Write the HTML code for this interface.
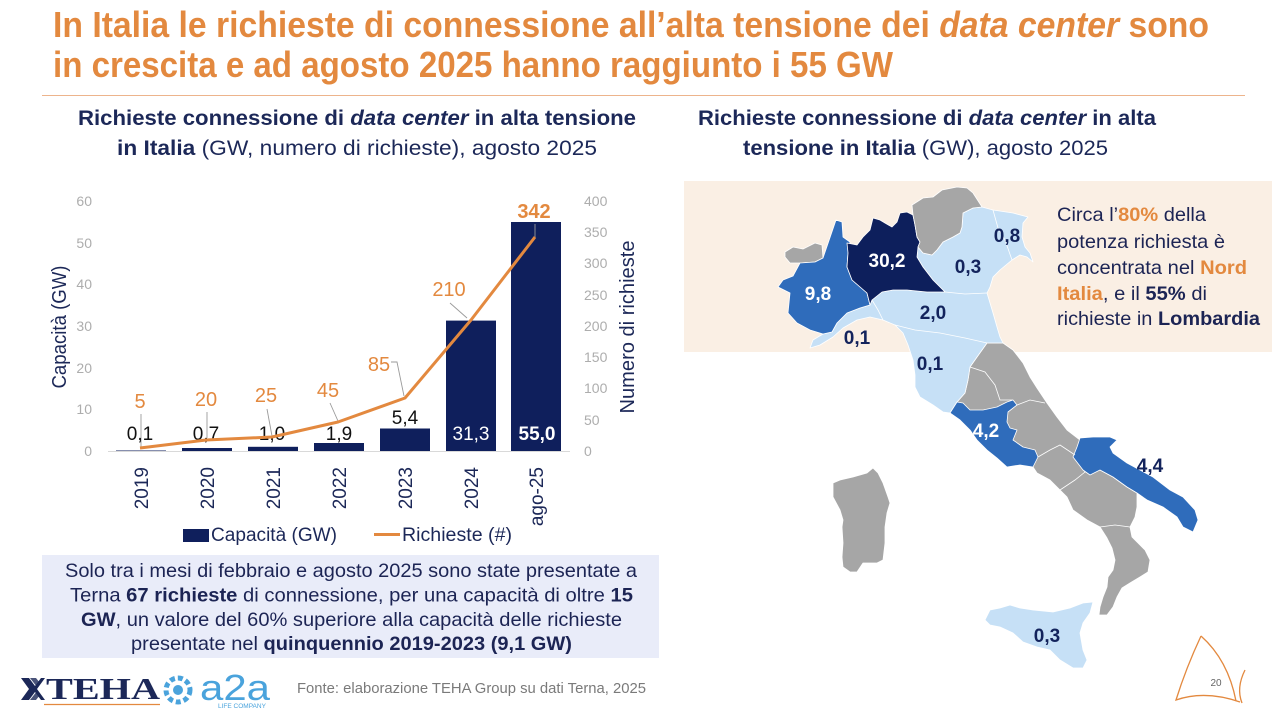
<!DOCTYPE html>
<html><head><meta charset="utf-8"><style>
html,body{margin:0;padding:0;background:#fff;}
svg{display:block;font-family:"Liberation Sans",sans-serif;}
</style></head><body>
<svg width="1280" height="720" viewBox="0 0 1280 720" xmlns="http://www.w3.org/2000/svg">
<rect width="1280" height="720" fill="#fff"/>
<!-- Title -->
<g fill="#E3893F" font-weight="bold" font-size="36">
<text x="53" y="37" textLength="1156" lengthAdjust="spacingAndGlyphs">In Italia le richieste di connessione all’alta tensione dei <tspan font-style="italic">data center</tspan> sono</text>
<text x="53" y="77" textLength="840" lengthAdjust="spacingAndGlyphs">in crescita e ad agosto 2025 hanno raggiunto i 55 GW</text>
</g>
<line x1="42" y1="95.5" x2="1245" y2="95.5" stroke="#EDB48C" stroke-width="1"/>
<!-- Subtitles -->
<g fill="#1C2858" font-size="21">
<text x="78" y="125" textLength="558" lengthAdjust="spacingAndGlyphs" font-weight="bold">Richieste connessione di <tspan font-style="italic">data center</tspan> in alta tensione</text>
<text x="117" y="155" textLength="480" lengthAdjust="spacingAndGlyphs"><tspan font-weight="bold">in Italia</tspan>  (GW, numero di richieste), agosto 2025</text>
<text x="698" y="125" textLength="458" lengthAdjust="spacingAndGlyphs" font-weight="bold">Richieste connessione di <tspan font-style="italic">data center</tspan> in alta</text>
<text x="743" y="155" textLength="365" lengthAdjust="spacingAndGlyphs"><tspan font-weight="bold">tensione in Italia</tspan> (GW), agosto 2025</text>
</g>
<!-- Chart axes -->
<g font-size="14" fill="#ADADAD">
<text x="92" y="206" text-anchor="end">60</text>
<text x="92" y="248" text-anchor="end">50</text>
<text x="92" y="289" text-anchor="end">40</text>
<text x="92" y="331" text-anchor="end">30</text>
<text x="92" y="373" text-anchor="end">20</text>
<text x="92" y="414" text-anchor="end">10</text>
<text x="92" y="456" text-anchor="end">0</text>
<text x="584" y="206">400</text>
<text x="584" y="237">350</text>
<text x="584" y="268">300</text>
<text x="584" y="300">250</text>
<text x="584" y="331">200</text>
<text x="584" y="362">150</text>
<text x="584" y="393">100</text>
<text x="584" y="425">50</text>
<text x="584" y="456">0</text>
</g>
<line x1="108" y1="451.5" x2="570" y2="451.5" stroke="#D9D9D9" stroke-width="1"/>
<g fill="#1C2858" font-size="20">
<text transform="translate(66,327) rotate(-90)" text-anchor="middle" textLength="123" lengthAdjust="spacingAndGlyphs">Capacità (GW)</text>
<text transform="translate(634,327) rotate(-90)" text-anchor="middle" textLength="173" lengthAdjust="spacingAndGlyphs">Numero di richieste</text>
</g>
<!-- Bars -->
<g fill="#0F1F5C">
<rect x="116" y="450.5" width="50" height="0.5"/>
<rect x="182" y="448" width="50" height="3"/>
<rect x="248" y="446.8" width="50" height="4.2"/>
<rect x="314" y="443" width="50" height="8"/>
<rect x="380" y="428.5" width="50" height="22.5"/>
<rect x="446" y="320.6" width="50" height="130.4"/>
<rect x="511" y="222" width="50" height="229"/>
</g>
<!-- leader lines -->
<g stroke="#9A9A9A" stroke-width="0.9" fill="none">
<line x1="141" y1="414" x2="141" y2="447"/>
<line x1="207" y1="412" x2="207" y2="438"/>
<line x1="267" y1="409" x2="272" y2="436"/>
<line x1="330" y1="403" x2="338" y2="421"/>
<polyline points="391,362 397,362 404,396"/>
<line x1="450" y1="303" x2="467" y2="318"/>
<line x1="535" y1="224" x2="535" y2="237"/>
</g>
<!-- data labels -->
<g font-size="19" text-anchor="middle">
<text x="140" y="440" fill="#111">0,1</text>
<text x="206" y="440" fill="#111">0,7</text>
<text x="272" y="440" fill="#111">1,0</text>
<text x="339" y="440" fill="#111">1,9</text>
<text x="405" y="424" fill="#111">5,4</text>
<text x="471" y="440" fill="#fff">31,3</text>
<text x="537" y="440" fill="#fff" font-weight="bold">55,0</text>
</g>
<!-- line -->
<polyline points="140,448 206,440 272,437 338,422 405,398 471,320 535,237" fill="none" stroke="#E3893F" stroke-width="3" stroke-linejoin="round"/>
<g font-size="20" fill="#E3893F" text-anchor="middle">
<text x="140" y="408">5</text>
<text x="206" y="406">20</text>
<text x="266" y="402">25</text>
<text x="328" y="397">45</text>
<text x="379" y="371">85</text>
<text x="449" y="296">210</text>
<text x="534" y="218" font-weight="bold">342</text>
</g>
<!-- x labels -->
<g font-size="19" fill="#1C2858" text-anchor="end">
<text transform="translate(148,467) rotate(-90)">2019</text>
<text transform="translate(214,467) rotate(-90)">2020</text>
<text transform="translate(280,467) rotate(-90)">2021</text>
<text transform="translate(346,467) rotate(-90)">2022</text>
<text transform="translate(412,467) rotate(-90)">2023</text>
<text transform="translate(478,467) rotate(-90)">2024</text>
<text transform="translate(543,467) rotate(-90)">ago-25</text>
</g>
<!-- legend -->
<rect x="183" y="529" width="26" height="13" fill="#0F1F5C"/>
<text x="211" y="541" font-size="19" fill="#1C2858" textLength="126" lengthAdjust="spacingAndGlyphs">Capacità (GW)</text>
<line x1="374" y1="534.5" x2="400" y2="534.5" stroke="#E3893F" stroke-width="3"/>
<text x="402" y="541" font-size="19" fill="#1C2858" textLength="110" lengthAdjust="spacingAndGlyphs">Richieste (#)</text>
<!-- text box -->
<rect x="42" y="555" width="617" height="103" fill="#E9ECF9"/>
<g font-size="19.5" fill="#1C2454">
<text x="65" y="577" textLength="572" lengthAdjust="spacingAndGlyphs">Solo tra i mesi di febbraio e agosto 2025 sono state presentate a</text>
<text x="70" y="601.5" textLength="563" lengthAdjust="spacingAndGlyphs">Terna <tspan font-weight="bold">67 richieste</tspan> di connessione, per una capacità di oltre  <tspan font-weight="bold">15</tspan></text>
<text x="81" y="626" textLength="541" lengthAdjust="spacingAndGlyphs"><tspan font-weight="bold">GW</tspan>, un valore del 60% superiore alla capacità delle richieste</text>
<text x="131" y="650" textLength="441" lengthAdjust="spacingAndGlyphs">presentate nel <tspan font-weight="bold">quinquennio 2019-2023 (9,1 GW)</tspan></text>
</g>
<!-- footer logos -->
<g fill="#1C2858">
<path d="M21,678 l8,0 l6,8 l6,-8 l4,0 l-8,11 l8,11 l-4,0 l-6,-8 l-6,8 l-8,0 l8,-11z" />
<path d="M30,678 l6,0 l4,5 l-3,4z M30,700 l6,0 l4,-5 l-3,-4z" fill="#1C2858" opacity="0.8"/>
<text x="46" y="699" font-family="Liberation Serif,serif" font-size="31" font-weight="bold" textLength="114" lengthAdjust="spacingAndGlyphs">TEHA</text>
</g>
<line x1="44" y1="704.5" x2="160" y2="704.5" stroke="#E3893F" stroke-width="1.2"/>
<g fill="none" stroke="#4AA3DC" stroke-width="5" stroke-dasharray="5 3">
<circle cx="178" cy="690" r="12"/>
</g>
<circle cx="178" cy="690" r="5" fill="#4AA3DC"/>
<text x="200" y="700" font-size="36" fill="#4AA3DC" textLength="70" lengthAdjust="spacingAndGlyphs">a2a</text>
<text x="218" y="708" font-size="6.5" fill="#4AA3DC">LIFE COMPANY</text>
<text x="297" y="693" font-size="15" fill="#7A7A7A" textLength="349" lengthAdjust="spacingAndGlyphs">Fonte: elaborazione TEHA Group su dati Terna, 2025</text>
<!-- Map panel -->
<rect x="684" y="181" width="588" height="171" fill="#FAEFE4"/>
<g stroke="#fff" stroke-width="0.8" stroke-linejoin="round">
<!-- gray central-south -->
<polygon fill="#A6A6A6" points="987,343 1003,343 1013,350 1023,363 1030,377 1037,388 1047,403 1057,417 1067,430 1080,440 1075,455 1085,472 1100,470 1113,477 1127,487 1137,493 1137,507 1135,517 1130,527 1132,537 1138,543 1145,550 1150,560 1148,572 1140,577 1130,583 1122,588 1117,597 1113,607 1107,615 1099,615 1100,607 1103,597 1107,587 1108,577 1113,570 1115,560 1112,548 1107,538 1100,527 1087,520 1073,510 1067,497 1060,490 1050,480 1037,473 1033,467 1020,455 1000,435 975,420 950,413 957,402 965,393 968,380 970,367 977,357"/>
<!-- light blue north -->
<polygon fill="#C6E0F6" points="982,207 993,210 1013,213 1028,217 1023,223 1022,237 1025,247 1030,253 1033,262 1027,257 1020,255 1012,260 1000,270 993,277 990,287 987,293 990,303 993,313 997,327 1000,337 1003,343 987,343 977,357 970,367 968,380 965,393 957,402 950,413 943,412 933,405 920,397 915,387 915,375 913,360 908,345 903,333 895,325 883,320 870,317 857,320 843,328 833,337 820,345 810,348 813,340 823,334 832,332 837,323 847,313 860,308 870,305 872,300 882,292 893,290 907,290 927,292 945,292 933,280 923,267 917,257 918,247 923,253 932,255 937,250 943,242 953,237 960,233 962,227 963,213 973,208"/>
<polygon fill="#A6A6A6" points="785,252 793,247 803,249 815,243 822,245 823,258 815,262 800,263 790,263 785,257"/>
<polygon fill="#2F6CBB" points="823,258 836,220 842,222 843,237 850,242 848,253 847,267 852,280 867,293 870,305 860,308 847,313 837,323 832,332 823,334 810,330 797,323 788,313 790,293 778,287 783,280 793,276 800,263 815,262"/>
<polygon fill="#0D1F5C" points="848,253 847,243 857,245 863,237 870,230 873,218 880,220 885,223 892,227 897,222 900,213 907,212 913,215 915,225 917,237 920,242 918,247 917,257 923,267 933,280 945,292 927,292 907,290 893,290 882,292 872,300 870,305 867,293 852,280 847,267"/>
<polygon fill="#A6A6A6" points="912,205 923,198 933,197 942,190 957,187 967,188 973,193 982,207 973,208 963,213 962,227 960,233 953,237 943,242 937,250 932,255 923,253 918,247 920,242 917,237 915,225 913,215"/>
<polygon fill="#2F6CBB" points="950,413 957,402 963,403 970,410 983,410 997,407 1007,402 1013,400 1017,405 1008,412 1007,422 1010,428 1017,430 1013,440 1023,447 1035,450 1038,457 1033,467 1020,465 1007,467 997,458 987,450 977,440 970,430 960,420"/>
<polygon fill="#2F6CBB" points="1080,438 1093,437 1110,437 1117,440 1110,447 1113,453 1127,463 1140,470 1153,477 1170,490 1183,497 1195,510 1198,520 1193,532 1183,527 1177,517 1163,507 1147,500 1137,493 1127,487 1113,477 1100,470 1090,475 1083,470 1073,457 1077,447"/>
<polygon fill="#A6A6A6" points="833,483 840,480 853,477 867,473 873,468 878,473 883,483 888,497 890,503 887,513 885,527 885,543 883,560 877,563 863,563 857,572 850,572 843,567 842,557 843,543 842,527 843,520 840,510 833,497"/>
<polygon fill="#C6E0F6" points="985,620 990,610 1000,608 1010,605 1020,608 1033,610 1053,612 1070,608 1083,603 1093,602 1090,613 1083,623 1080,633 1083,650 1087,660 1083,668 1073,668 1060,660 1050,650 1037,647 1023,642 1013,633 1000,627 990,625"/>
</g>
<g fill="none" stroke="#fff" stroke-width="0.8">
<polyline points="945,292 965,294 987,293"/>
<polyline points="993,210 998,228 1005,240 1012,260"/>
<polyline points="872,300 878,310 883,320"/>
<polyline points="895,325 915,330 940,333 965,338 987,343"/>
<polyline points="970,367 985,372 995,385 1000,400 1013,400"/>
<polyline points="1017,405 1030,400 1045,403"/>
<polyline points="1038,457 1050,450 1060,445 1075,455"/>
<polyline points="1060,490 1075,480 1085,472"/>
<polyline points="1100,527 1115,525 1130,527"/>
</g>
<g font-size="19" font-weight="bold" text-anchor="middle">
<text x="818" y="300" fill="#fff">9,8</text>
<text x="887" y="267" fill="#fff">30,2</text>
<text x="1007" y="242" fill="#13235C">0,8</text>
<text x="968" y="273" fill="#13235C">0,3</text>
<text x="933" y="319" fill="#13235C">2,0</text>
<text x="857" y="344" fill="#13235C">0,1</text>
<text x="930" y="370" fill="#13235C">0,1</text>
<text x="986" y="437" fill="#fff">4,2</text>
<text x="1150" y="472" fill="#13235C">4,4</text>
<text x="1047" y="642" fill="#13235C">0,3</text>
</g>
<!-- Map text -->
<g font-size="19.5" fill="#1C2454">
<text x="1057" y="221" textLength="149" lengthAdjust="spacingAndGlyphs">Circa l’<tspan font-weight="bold" fill="#E3893F">80%</tspan> della</text>
<text x="1057" y="248" textLength="168" lengthAdjust="spacingAndGlyphs">potenza richiesta è</text>
<text x="1057" y="274" textLength="190" lengthAdjust="spacingAndGlyphs">concentrata nel <tspan font-weight="bold" fill="#E3893F">Nord</tspan></text>
<text x="1057" y="300" textLength="150" lengthAdjust="spacingAndGlyphs"><tspan font-weight="bold" fill="#E3893F">Italia</tspan>, e il <tspan font-weight="bold">55%</tspan> di</text>
<text x="1057" y="325" textLength="203" lengthAdjust="spacingAndGlyphs">richieste in <tspan font-weight="bold">Lombardia</tspan></text>
</g>
<!-- sail logo -->
<g fill="none" stroke="#E3893F" stroke-width="1.3">
<path d="M1201,636 Q1228,660 1236,701"/>
<path d="M1201,636 Q1186,668 1176,700 Q1205,690 1240,702"/>
<path d="M1245,670 Q1236,688 1242,703"/>
</g>
<text x="1216" y="686" font-size="10" fill="#666" text-anchor="middle">20</text>
</svg>
</body></html>
